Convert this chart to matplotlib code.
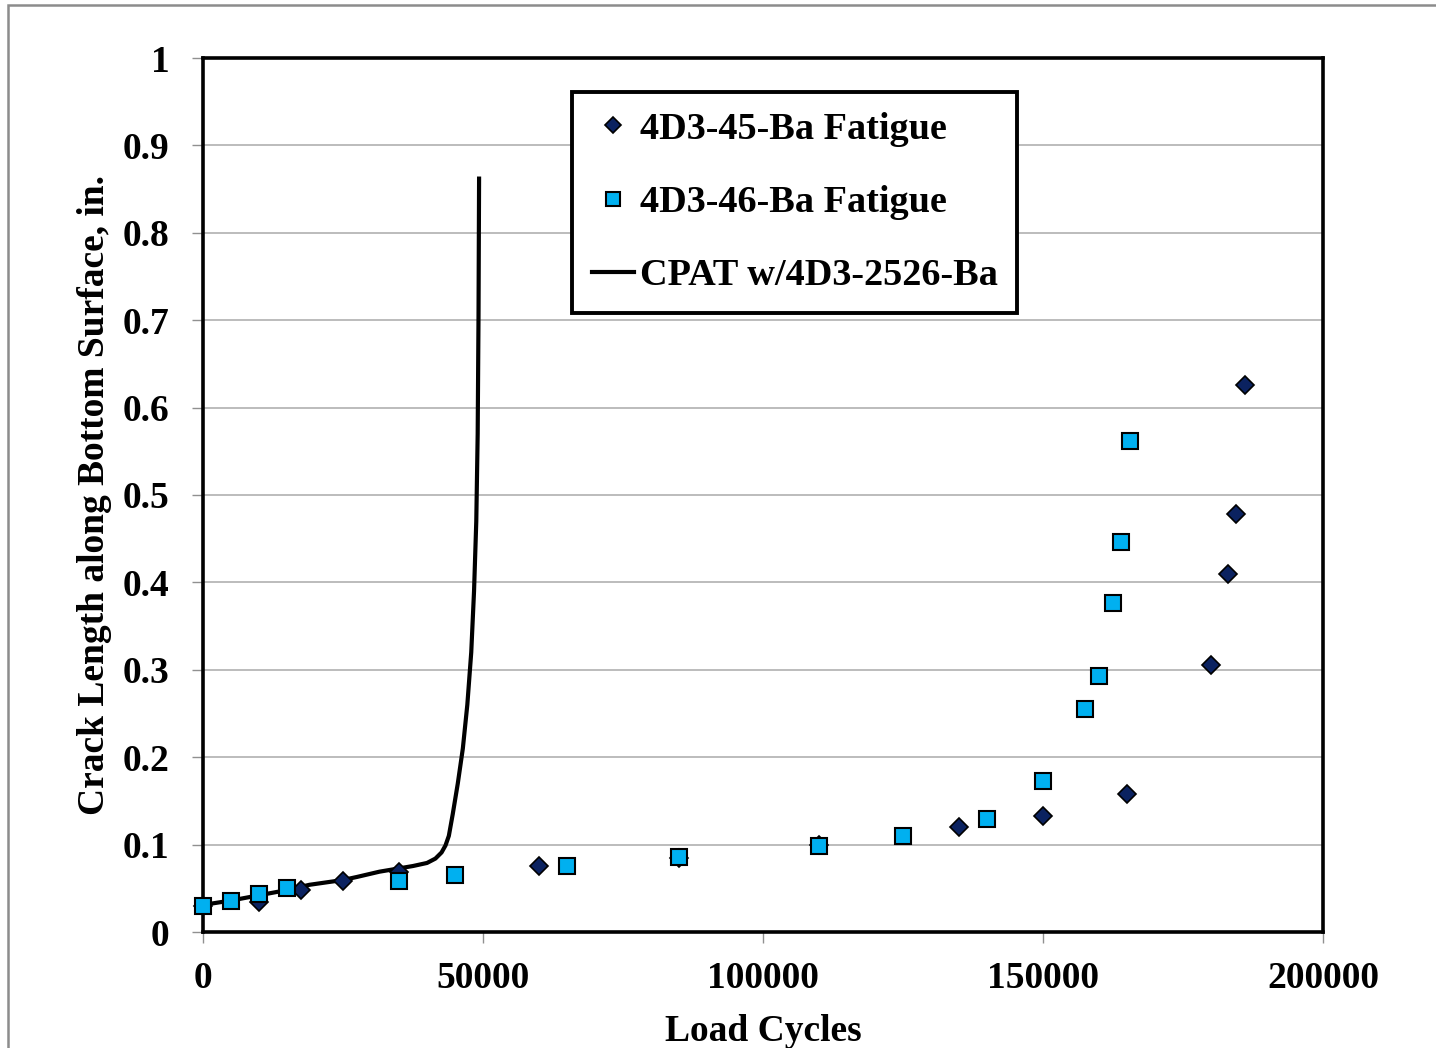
import matplotlib
matplotlib.use("Agg")
import matplotlib.pyplot as plt
from matplotlib.patches import Rectangle
from matplotlib.ticker import MultipleLocator, FormatStrFormatter

# 4D3-45-Ba fatigue test (diamonds)
fat45_x = [0, 10000, 17500, 25000, 35000, 60000, 85000, 110000, 135000, 150000,
           165000, 180000, 183000, 184500, 186000]
fat45_y = [0.030, 0.034, 0.048, 0.058, 0.069, 0.075, 0.085, 0.100, 0.120, 0.133,
           0.158, 0.305, 0.410, 0.478, 0.626]

# 4D3-46-Ba fatigue test (squares)
fat46_x = [0, 5000, 10000, 15000, 35000, 45000, 65000, 85000, 110000, 125000,
           140000, 150000, 157500, 160000, 162500, 164000, 165500]
fat46_y = [0.030, 0.035, 0.043, 0.050, 0.058, 0.065, 0.075, 0.086, 0.098, 0.110,
           0.129, 0.173, 0.255, 0.293, 0.376, 0.446, 0.562]

# CPAT prediction curve
cpat_x = [0, 5000, 10000, 15000, 19000, 25000, 27500, 31500, 37500, 40000, 41500,
          42600, 43300, 43900, 44600, 45500, 46400, 47200, 47900, 48400, 48800,
          49050, 49200, 49300]
cpat_y = [0.031, 0.036, 0.042, 0.048, 0.054, 0.0595, 0.063, 0.069, 0.0755, 0.079,
          0.084, 0.091, 0.099, 0.110, 0.135, 0.170, 0.210, 0.260, 0.320, 0.390,
          0.470, 0.570, 0.705, 0.862]

serif = "Liberation Serif"

fig = plt.figure(figsize=(14.36, 10.48), dpi=100)
ax = fig.add_axes([203 / 1436, 1 - 932 / 1048, 1120 / 1436, 874 / 1048])

# outer chart border
fig.patches.append(Rectangle((8 / 1436, -0.1), 1.2, 1.1 - 5 / 1048,
                             transform=fig.transFigure, fill=False,
                             edgecolor="#8c8c8c", linewidth=1.8))

ax.plot(cpat_x, cpat_y, color="black", lw=3, zorder=2,
        label="CPAT w/4D3-2526-Ba")
ax.plot(fat45_x, fat45_y, ls="none", marker="D", ms=9.5, mfc="#0b2260",
        mec="black", mew=1.2, zorder=3, clip_on=False, label="4D3-45-Ba Fatigue")
ax.plot(fat46_x, fat46_y, ls="none", marker="s", ms=11.5, mfc="#00b0f0",
        mec="black", mew=1.5, zorder=4, clip_on=False, label="4D3-46-Ba Fatigue")

ax.set_xlim(0, 200000)
ax.set_ylim(0, 1)
ax.xaxis.set_major_locator(MultipleLocator(50000))
ax.yaxis.set_major_locator(MultipleLocator(0.1))
ax.yaxis.set_major_formatter(FormatStrFormatter("%g"))
ax.grid(axis="y", color="#b0b0b0", lw=1.2)
ax.set_axisbelow(True)

for s in ax.spines.values():
    s.set_linewidth(2.6)
    s.set_color("black")

ax.tick_params(axis="both", direction="out", length=8, width=1, color="#909090")
ax.tick_params(axis="y", pad=16)
ax.tick_params(axis="x", pad=13)
for lbl in ax.get_xticklabels() + ax.get_yticklabels():
    lbl.set_fontfamily(serif)
    lbl.set_fontweight("bold")
    lbl.set_fontsize(27)

ax.set_xlabel("Load Cycles", fontfamily=serif, fontweight="bold", fontsize=27,
              labelpad=13)
ax.set_ylabel("Crack Length along Bottom Surface, in.", fontfamily=serif,
              fontweight="bold", fontsize=27, labelpad=8)

h, l = ax.get_legend_handles_labels()
order = [1, 2, 0]
leg = ax.legend([h[i] for i in order], [l[i] for i in order],
                loc="upper left", bbox_to_anchor=(572 / 1436, 1 - 92 / 1048),
                bbox_transform=fig.transFigure, borderaxespad=0,
                prop={"family": serif, "weight": "bold", "size": 27.5},
                frameon=True, fancybox=False, edgecolor="black", framealpha=1,
                handlelength=1.1, handletextpad=0.15, labelspacing=1.0,
                borderpad=0.52, markerscale=0.9)
leg.get_frame().set_linewidth(2.8)

fig.savefig("out.png", dpi=100)
